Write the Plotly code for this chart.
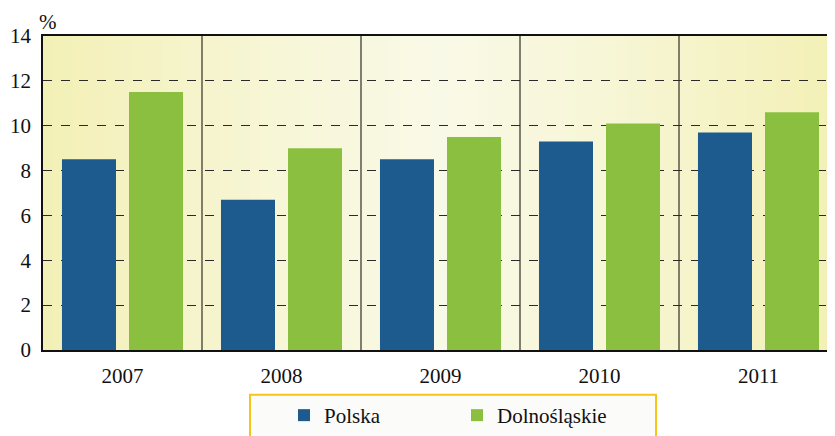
import plotly.graph_objects as go

years = ["2007", "2008", "2009", "2010", "2011"]
polska = [8.5, 6.7, 8.5, 9.3, 9.7]
dolnoslaskie = [11.5, 9.0, 9.5, 10.1, 10.6]
y_ticks = [0, 2, 4, 6, 8, 10, 12, 14]

BLUE = "#1d5a8e"
GREEN = "#8bbf40"
FONT = "Liberation Serif"

# page is offset by the default 8px body margin
OFF = 8
W, H = 835 - OFF, 436 - OFF
L, T = 43 - OFF, 36 - OFF
BOTTOM = 352 - OFF
B = H - BOTTOM
plot_w = W - L
plot_h = H - T - B


def px_x(p):  # page x -> paper
    return (p - OFF - L) / plot_w


def px_y(p):  # page y -> paper
    return (BOTTOM - (p - OFF)) / plot_h


fig = go.Figure()
fig.add_trace(go.Bar(name="Polska", x=years, y=polska, marker_color=BLUE, marker_line_width=0))
fig.add_trace(go.Bar(name="Dolnośląskie", x=years, y=dolnoslaskie, marker_color=GREEN, marker_line_width=0))

# background gradient strips (light centre, yellow edges)
edge = (243, 240, 182)
centre = (249, 249, 231)
n = 80
shapes = []
for i in range(n):
    t0 = i / n
    t1 = (i + 1) / n
    tm = (t0 + t1) / 2
    d = abs(tm - 0.5) / 0.5
    f = d ** 1.2
    c = tuple(round(centre[k] + (edge[k] - centre[k]) * f) for k in range(3))
    shapes.append(dict(type="rect", xref="paper", yref="paper", x0=t0, x1=t1 + 0.002, y0=0, y1=1,
                       fillcolor="rgb(%d,%d,%d)" % c, line_width=0, layer="below"))

# category separators
for xs in [0.5, 1.5, 2.5, 3.5]:
    shapes.append(dict(type="line", xref="x", yref="paper", x0=xs, x1=xs, y0=0, y1=1,
                       line=dict(color="#2e2e26", width=1.2), layer="above"))

# legend box
shapes.append(dict(type="rect", xref="paper", yref="paper", x0=px_x(250), x1=px_x(656),
                   y0=px_y(397), y1=px_y(450), fillcolor="#fbfbfa",
                   line=dict(color="#f5c518", width=2), layer="above"))

fig.update_layout(
    width=W, height=H,
    margin=dict(l=L, r=0, t=T, b=B, pad=0),
    paper_bgcolor="white",
    plot_bgcolor="rgba(0,0,0,0)",
    font=dict(family=FONT, size=21, color="#111"),
    barmode="group",
    bargap=0.157,
    bargroupgap=0.194,
    shapes=shapes,
    showlegend=True,
    legend=dict(orientation="h", x=px_x(284), xanchor="left", y=px_y(418), yanchor="middle",
                bgcolor="rgba(0,0,0,0)", font=dict(family=FONT, size=21, color="#111"),
                entrywidth=128, entrywidthmode="pixels", traceorder="normal"),
    annotations=[dict(text="%", xref="paper", yref="paper", x=px_x(47.5), y=px_y(22),
                      xanchor="center", yanchor="middle", showarrow=False,
                      font=dict(family=FONT, size=21, color="#111"))],
)

fig.update_xaxes(range=[-0.5, 4.5 - 3 / 159], showline=True, linecolor="#111", linewidth=1.5,
                 mirror=True, showgrid=False, ticks="", ticklabelstandoff=6,
                 tickfont=dict(family=FONT, size=21, color="#111"))
fig.update_yaxes(range=[0, 14], tickvals=y_ticks, showline=True, linecolor="#111", linewidth=1.5,
                 showgrid=True, gridcolor="#2a2a2a", griddash="dash", gridwidth=1,
                 zeroline=False, ticks="", ticklabelstandoff=6,
                 tickfont=dict(family=FONT, size=21, color="#111"))

fig.write_html("out.html")
